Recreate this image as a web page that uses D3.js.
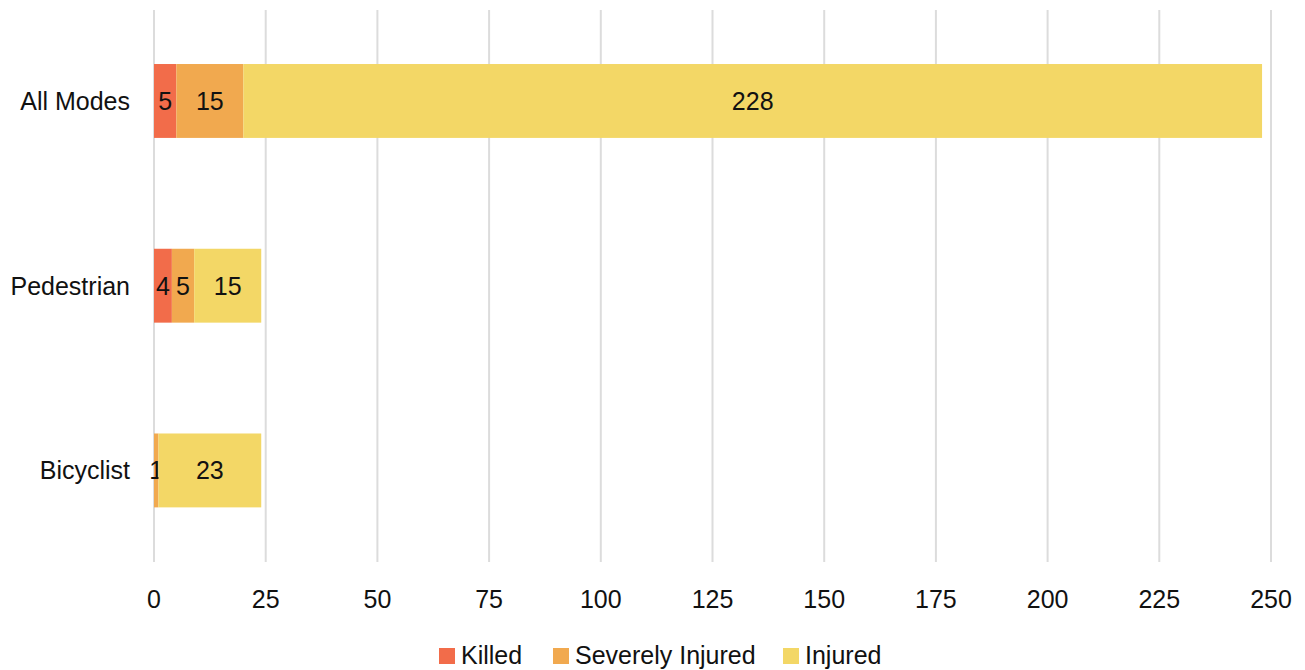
<!DOCTYPE html>
<html><head><meta charset="utf-8">
<script src="https://cdn.jsdelivr.net/npm/d3@7"></script>
<style>body{margin:0;background:#fff;}svg{display:block;font-family:Arial,"Liberation Sans",sans-serif;}</style>
</head><body>
<svg id="chart" width="1305" height="670"></svg>
<script>
const categories = ["All Modes", "Pedestrian", "Bicyclist"];
const seriesNames = ["Killed", "Severely Injured", "Injured"];
const killed = [5, 4, 0];
const severelyInjured = [15, 5, 1];
const injured = [228, 15, 23];
const xTicks = [0, 25, 50, 75, 100, 125, 150, 175, 200, 225, 250];
const colors = ["#F26C4A", "#F1A94F", "#F3D766"];

const svg = d3.select("#chart");
const x = d3.scaleLinear().domain([0, 250]).range([154, 1271]);
const y = d3.scaleBand().domain(categories).range([8.6, 562.8]).paddingInner(0.6).paddingOuter(0.3);
const FS = 25;

// gridlines
svg.append("g").selectAll("line").data(xTicks).join("line")
  .attr("x1", d => x(d)).attr("x2", d => x(d))
  .attr("y1", 10).attr("y2", 562)
  .attr("stroke", "#dcdcdc").attr("stroke-width", 2);

// x tick labels
svg.append("g").selectAll("text").data(xTicks).join("text")
  .attr("x", d => x(d)).attr("y", 608)
  .attr("text-anchor", "middle").attr("font-size", FS).attr("fill", "#111")
  .text(d => d);

// category labels
svg.append("g").selectAll("text").data(categories).join("text")
  .attr("x", 130).attr("y", d => y(d) + y.bandwidth() / 2 + 9)
  .attr("text-anchor", "end").attr("font-size", FS).attr("fill", "#111")
  .text(d => d);

const rows = categories.map((c, i) => ({cat: c, Killed: killed[i], "Severely Injured": severelyInjured[i], Injured: injured[i]}));
const stack = d3.stack().keys(seriesNames)(rows);

stack.forEach((layer, li) => {
  const g = svg.append("g");
  g.selectAll("rect").data(layer).join("rect")
    .attr("x", d => x(d[0])).attr("width", d => x(d[1]) - x(d[0]))
    .attr("y", d => y(d.data.cat)).attr("height", y.bandwidth())
    .attr("fill", colors[li]);
  g.selectAll("text").data(layer.filter(d => d[1] - d[0] > 0)).join("text")
    .attr("x", d => (x(d[0]) + x(d[1])) / 2)
    .attr("y", d => y(d.data.cat) + y.bandwidth() / 2 + 9)
    .attr("text-anchor", "middle").attr("font-size", FS).attr("fill", "#111")
    .text(d => d[1] - d[0]);
});

// legend
const legendX = [439, 553, 783];
const lg = svg.append("g");
seriesNames.forEach((s, i) => {
  lg.append("rect").attr("x", legendX[i]).attr("y", 648).attr("width", 16).attr("height", 16).attr("fill", colors[i]);
  lg.append("text").attr("x", legendX[i] + 22).attr("y", 664).attr("font-size", FS).attr("fill", "#111").text(s);
});
</script>
</body></html>
